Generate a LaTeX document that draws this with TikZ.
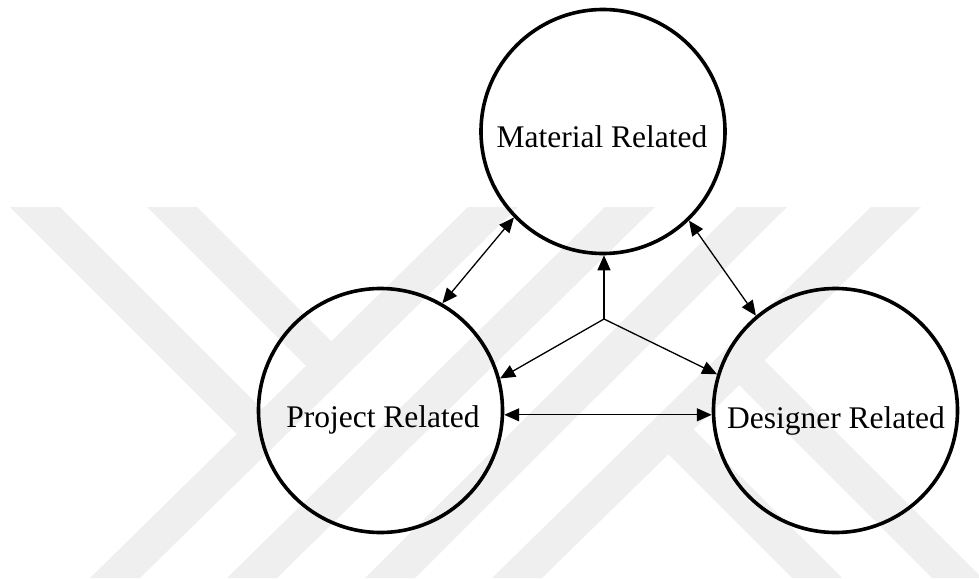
\documentclass[tikz,border=0pt]{standalone}
\usepackage{fontspec}
\setmainfont{Liberation Serif}
\usetikzlibrary{arrows.meta}
\definecolor{wm}{RGB}{239,239,239}
\begin{document}
\begin{tikzpicture}[x=1pt,y=-1pt,
  bubble/.style={circle,draw,line width=3.6pt,minimum size=244pt,inner sep=0pt},
  lbl/.style={font=\fontsize{31.5}{31.5}\selectfont,anchor=base,inner sep=0pt},
  conn/.style={line width=1.3pt,-{Triangle[length=15pt,width=13pt]}},
  bi/.style={line width=1.3pt,{Triangle[length=15pt,width=13pt]}-{Triangle[length=15pt,width=13pt]}},
  wmark/.style={fill=wm,draw=none}]
\useasboundingbox (0,0) rectangle (979,578);
% watermark
\fill[wmark] (90,578) -- (140,578) -- (518,207) -- (468,207) -- cycle;
\fill[wmark] (227,578) -- (277,578) -- (655,207) -- (605,207) -- cycle;
\fill[wmark] (365,578) -- (415,578) -- (787,207) -- (737,207) -- cycle;
\fill[wmark] (492,578) -- (542,578) -- (921,207) -- (871,207) -- cycle;
\fill[wmark] (10,207) -- (60,207) -- (275,422) -- (250,447) -- cycle;
\fill[wmark] (147,207) -- (197,207) -- (345,355) -- (320,380) -- cycle;
\fill[wmark] (724,370) -- (749,345) -- (982,578) -- (932,578) -- cycle;
\fill[wmark] (654,440) -- (679,415) -- (842,578) -- (792,578) -- cycle;
% circles
\node[bubble] (M) at (603,131.5) {};
\node[bubble] (P) at (380.5,410.5) {};
\node[bubble] (D) at (835.5,410.5) {};
\node[lbl] (mt) at (602,147) {Material Related};
\node[lbl] (pt) at (383,427) {Project Related};
\node[lbl] (dt) at (836,428) {Designer Related};
% connectors
\coordinate (J) at (604,319);
\draw[conn] (J) -- (J |- M.south);
\draw[conn] (J) -- (P.15);
\draw[conn] (J) -- (D.163);
\draw[bi] (M.224) -- (P.60);
\draw[bi] (M.314) -- (D.130);
\draw[bi] (P.-2) -- (D.182);
\end{tikzpicture}
\end{document}
